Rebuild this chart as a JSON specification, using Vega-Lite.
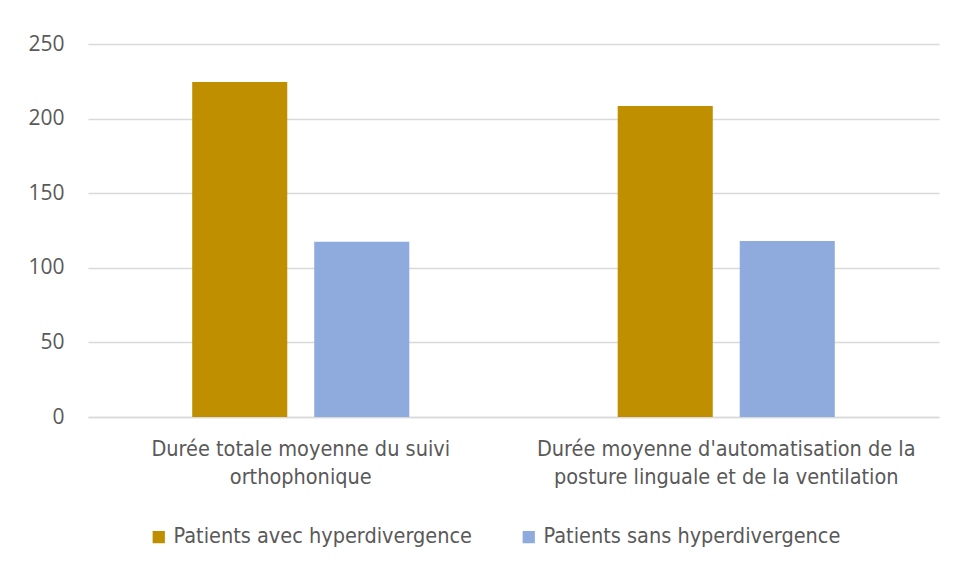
{
  "$schema": "https://vega.github.io/schema/vega-lite/v6.json",
  "width": 851,
  "height": 373,
  "autosize": {"type": "none"},
  "padding": {"left": 88, "top": 44, "right": 22, "bottom": 160},
  "background": "white",
  "data": {
    "values": [
      {"categorie": "Durée totale moyenne du suivi orthophonique", "groupe": "Patients avec hyperdivergence", "valeur": 224.5},
      {"categorie": "Durée totale moyenne du suivi orthophonique", "groupe": "Patients sans hyperdivergence", "valeur": 117.5},
      {"categorie": "Durée moyenne d'automatisation de la posture linguale et de la ventilation", "groupe": "Patients avec hyperdivergence", "valeur": 208.5},
      {"categorie": "Durée moyenne d'automatisation de la posture linguale et de la ventilation", "groupe": "Patients sans hyperdivergence", "valeur": 118}
    ]
  },
  "mark": {"type": "bar"},
  "encoding": {
    "x": {
      "field": "categorie",
      "type": "nominal",
      "sort": null,
      "scale": {"paddingInner": 0, "paddingOuter": 0},
      "axis": {
        "title": null,
        "labelAngle": 0,
        "labelExpr": "datum.value == 'Durée totale moyenne du suivi orthophonique' ? ['Durée totale moyenne du suivi', 'orthophonique'] : ['Durée moyenne d\\'automatisation de la', 'posture linguale et de la ventilation']",
        "labelFont": "DejaVu Sans Condensed",
        "labelFontSize": 21.5,
        "labelColor": "#595959",
        "labelLineHeight": 28,
        "labelPadding": 21,
        "labelLimit": 500,
        "ticks": false,
        "domain": true,
        "domainColor": "#d9d9d9",
        "domainWidth": 1.5,
        "grid": false
      }
    },
    "xOffset": {
      "field": "groupe",
      "type": "nominal",
      "scale": {"paddingInner": 0.221, "paddingOuter": 0.854}
    },
    "y": {
      "field": "valeur",
      "type": "quantitative",
      "scale": {"domain": [0, 250]},
      "axis": {
        "title": null,
        "values": [0, 50, 100, 150, 200, 250],
        "labelFont": "Open Sans",
        "labelFontSize": 21,
        "labelColor": "#595959",
        "labelPadding": 24,
        "ticks": false,
        "domain": false,
        "grid": true,
        "gridColor": "#d9d9d9",
        "gridWidth": 1.5
      }
    },
    "color": {
      "field": "groupe",
      "type": "nominal",
      "scale": {
        "domain": ["Patients avec hyperdivergence", "Patients sans hyperdivergence"],
        "range": ["#BF8F00", "#8FAADC"]
      },
      "legend": {
        "title": null,
        "orient": "none",
        "direction": "horizontal",
        "legendX": 60,
        "legendY": 482,
        "symbolType": "square",
        "symbolSize": 150,
        "symbolStrokeWidth": 0,
        "labelFont": "DejaVu Sans Condensed",
        "labelFontSize": 21.5,
        "labelColor": "#595959",
        "labelOffset": 4,
        "labelLimit": 500,
        "columnPadding": 46
      }
    }
  },
  "config": {
    "view": {"stroke": null}
  }
}
